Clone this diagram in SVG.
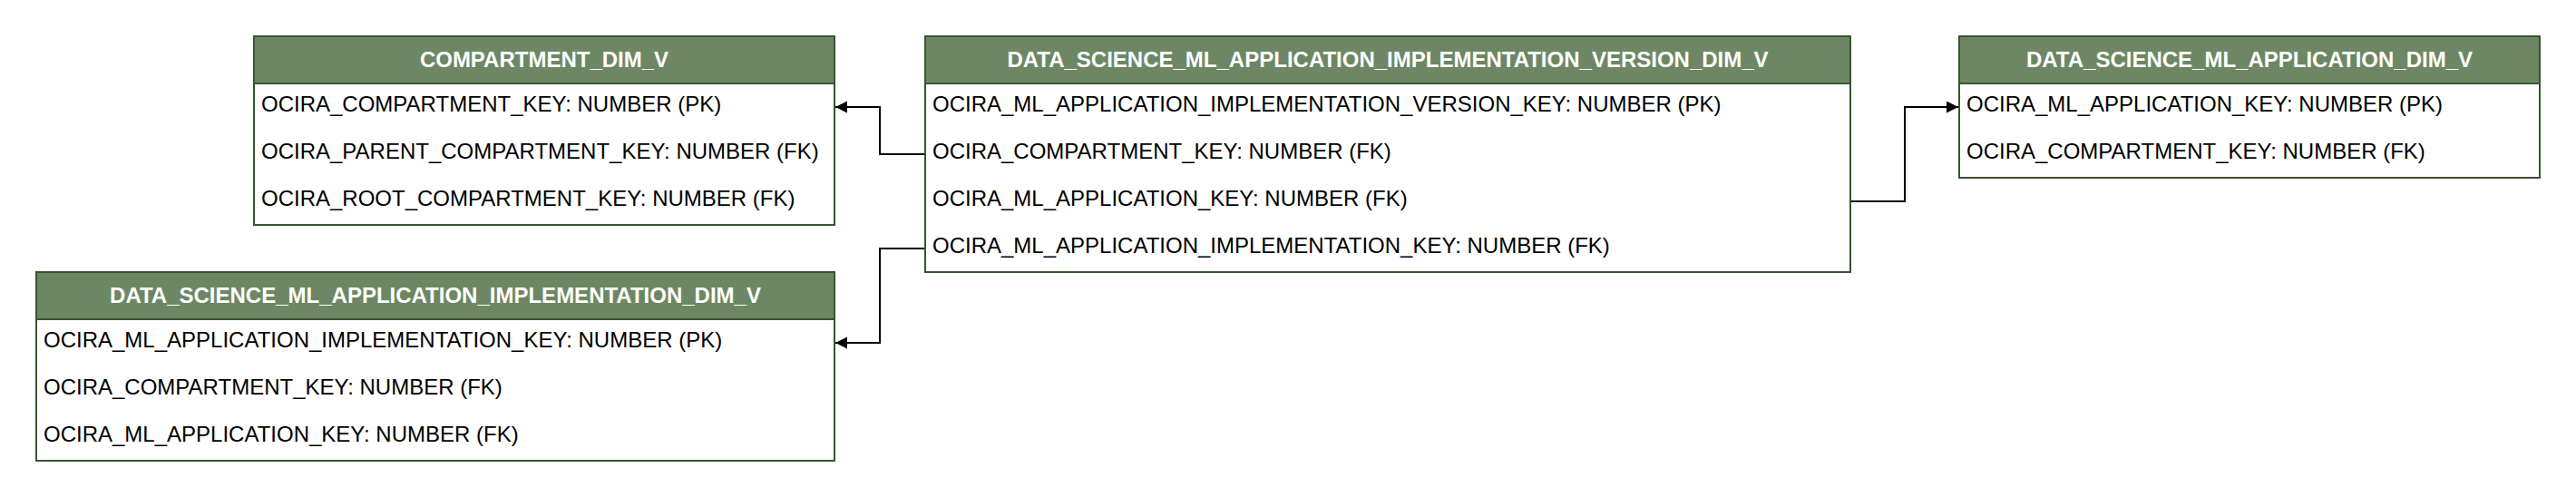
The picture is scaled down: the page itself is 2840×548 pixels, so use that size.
<svg xmlns="http://www.w3.org/2000/svg" width="2840" height="548" viewBox="0 0 2840 548">
<style>
.body{fill:#ffffff;stroke:#3a5431;stroke-width:2}
.head{fill:#6d8764;stroke:#3a5431;stroke-width:2}
.ht{font-family:"Liberation Sans",Arial,Helvetica,sans-serif;font-size:24px;font-weight:bold;fill:#ffffff;text-anchor:middle}
.rt{font-family:"Liberation Sans",Arial,Helvetica,sans-serif;font-size:24px;fill:#000000}
.conn{fill:none;stroke:#000000;stroke-width:2;marker-end:url(#arr)}
</style>
<defs>
<marker id="arr" markerUnits="userSpaceOnUse" markerWidth="14" markerHeight="14" refX="13" refY="6.5" orient="auto">
<path d="M0,0 L13,6.5 L0,13 z" fill="#000000"/>
</marker>
</defs>
<rect width="2840" height="548" fill="#ffffff"/>
<g id="connectors">
<path class="conn" d="M1020,170 H970 V118 H921"/>
<path class="conn" d="M1020,274 H970 V378 H921"/>
<path class="conn" d="M2040,222 H2100 V118 H2159"/>
</g>
<g id="compartment_dim_v">
<rect class="body" x="280" y="40" width="640" height="208"/>
<rect class="head" x="280" y="40" width="640" height="52"/>
<text class="ht" x="600" y="74">COMPARTMENT_DIM_V</text>
<text class="rt" x="288" y="122.5">OCIRA_COMPARTMENT_KEY: NUMBER (PK)</text>
<text class="rt" x="288" y="174.5">OCIRA_PARENT_COMPARTMENT_KEY: NUMBER (FK)</text>
<text class="rt" x="288" y="226.5">OCIRA_ROOT_COMPARTMENT_KEY: NUMBER (FK)</text>
</g>
<g id="ml_app_impl_version_dim_v">
<rect class="body" x="1020" y="40" width="1020" height="260"/>
<rect class="head" x="1020" y="40" width="1020" height="52"/>
<text class="ht" x="1530" y="74">DATA_SCIENCE_ML_APPLICATION_IMPLEMENTATION_VERSION_DIM_V</text>
<text class="rt" x="1028" y="122.5">OCIRA_ML_APPLICATION_IMPLEMENTATION_VERSION_KEY: NUMBER (PK)</text>
<text class="rt" x="1028" y="174.5">OCIRA_COMPARTMENT_KEY: NUMBER (FK)</text>
<text class="rt" x="1028" y="226.5">OCIRA_ML_APPLICATION_KEY: NUMBER (FK)</text>
<text class="rt" x="1028" y="278.5">OCIRA_ML_APPLICATION_IMPLEMENTATION_KEY: NUMBER (FK)</text>
</g>
<g id="ml_application_dim_v">
<rect class="body" x="2160" y="40" width="640" height="156"/>
<rect class="head" x="2160" y="40" width="640" height="52"/>
<text class="ht" x="2480" y="74">DATA_SCIENCE_ML_APPLICATION_DIM_V</text>
<text class="rt" x="2168" y="122.5">OCIRA_ML_APPLICATION_KEY: NUMBER (PK)</text>
<text class="rt" x="2168" y="174.5">OCIRA_COMPARTMENT_KEY: NUMBER (FK)</text>
</g>
<g id="ml_app_impl_dim_v">
<rect class="body" x="40" y="300" width="880" height="208"/>
<rect class="head" x="40" y="300" width="880" height="52"/>
<text class="ht" x="480" y="334">DATA_SCIENCE_ML_APPLICATION_IMPLEMENTATION_DIM_V</text>
<text class="rt" x="48" y="382.5">OCIRA_ML_APPLICATION_IMPLEMENTATION_KEY: NUMBER (PK)</text>
<text class="rt" x="48" y="434.5">OCIRA_COMPARTMENT_KEY: NUMBER (FK)</text>
<text class="rt" x="48" y="486.5">OCIRA_ML_APPLICATION_KEY: NUMBER (FK)</text>
</g>
</svg>
